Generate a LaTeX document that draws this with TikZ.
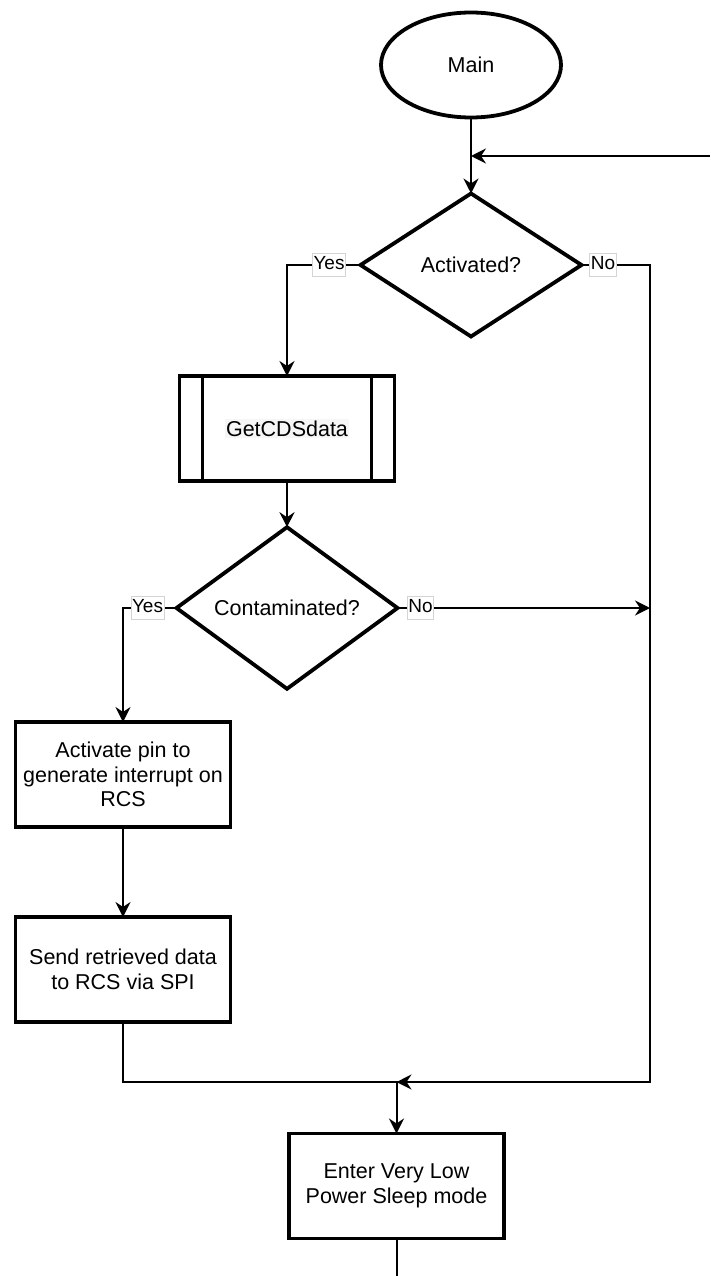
\documentclass[tikz,border=0pt]{standalone}
\usepackage{fontspec}
\setmainfont{Liberation Sans}
\usetikzlibrary{shapes.geometric,arrows.meta}
\definecolor{labelframe}{HTML}{D4D4D4}
\definecolor{textbg}{HTML}{F6F6F6}
\begin{document}
\begin{tikzpicture}[x=1pt,y=-1pt,
  shapeline/.style={draw=black,line width=3.8pt},
  terminal/.style={shapeline,ellipse,minimum width=180pt,minimum height=105pt,inner sep=0pt,outer sep=0pt,font=\fontsize{21.5}{24.5}\selectfont},
  decision/.style={shapeline,diamond,minimum width=221pt,minimum height=143pt,inner sep=0pt,outer sep=0pt,font=\fontsize{21.5}{24.5}\selectfont},
  process/.style={shapeline,rectangle,minimum width=215pt,minimum height=105pt,inner sep=2pt,outer sep=0pt,align=center,font=\fontsize{21.5}{24.5}\selectfont},
  conn/.style={draw=black,line width=2pt,-{Stealth[length=15pt,width=15pt,inset=5pt]}},
  plain/.style={draw=black,line width=2pt},
  edgelabel/.style={draw=labelframe,line width=0.8pt,fill=white,inner xsep=1pt,inner ysep=3pt,text height=13.5pt,text depth=4pt,font=\fontsize{19}{21}\selectfont}
]
\useasboundingbox (0,0) rectangle (710,1276);

% shapes
\node[terminal] (main) at (471,65) {Main};
\node[decision] (actq) at (471,265) {Activated?};
\node[process] (get) at (287,428.5) {{\setlength\fboxsep{1.5pt}\colorbox{textbg}{GetCDSdata}}};
\draw[shapeline] ([xshift=23pt]get.north west) -- ([xshift=23pt]get.south west);
\draw[shapeline] ([xshift=-23pt]get.north east) -- ([xshift=-23pt]get.south east);
\node[decision] (contq) at (287,608) {Contaminated?};
\node[process] (pin) at (123,774.5) {Activate pin to\\generate interrupt on\\RCS};
\node[process] (send) at (123,969.5) {Send retrieved data\\to RCS via SPI};
\node[process] (sleep) at (396.5,1186) {Enter Very Low\\Power Sleep mode};

% routing points
\coordinate (loopin) at (710,156);
\coordinate (loopjoin) at (471,156);
\coordinate (rightbus) at (650,1082);
\coordinate (merge) at (396.5,1082);
\coordinate (contnoend) at (650,608);
\coordinate (bottomend) at (396.5,1276);

% connectors
\draw[conn] (main.south) -- (actq.north);
\draw[conn] (loopin) -- (loopjoin);
\draw[conn] (actq.west) -| (get.north);
\draw[conn] (actq.east) -| (rightbus) -- (merge);
\draw[conn] (get.south) -- (contq.north);
\draw[conn] (contq.east) -- (contnoend);
\draw[conn] (contq.west) -| (pin.north);
\draw[conn] (pin.south) -- (send.north);
\draw[conn] (send.south) |- (merge) -- (sleep.north);
\draw[plain] (sleep.south) -- (bottomend);

% edge labels
\node[edgelabel] (actyes) at (329,265) {Yes};
\node[edgelabel] (actno) at (603,265) {No};
\node[edgelabel] (contyes) at (147.5,608) {Yes};
\node[edgelabel] (contno) at (420.5,608) {No};
\end{tikzpicture}
\end{document}
